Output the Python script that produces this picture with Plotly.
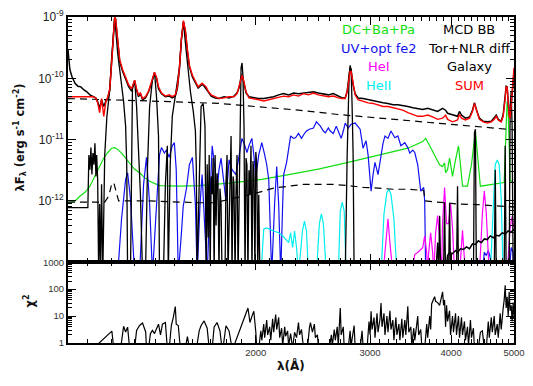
import numpy as np
import plotly.graph_objects as go

# ---------------- data (wavelength in Angstrom, log10 of lambda*F_lambda) ----------------
wave_obs = [1027,1034,1042,1053,1064,1075,1087,1098,1110,1122,1133,1141,1149,1157,1166,1174,1183,1191,1199,1208,
            1212,1216,1225,1234,1247,1260,1274,1287,1301,1310,1319,1328,1338,1352,1367,1381,1396,1406,1416,1431,
            1451,1471,1487,1503,1514,1525,1536,1547,1558,1569,1580,1597,1614,1630,1641,1653,1665,1677,1689,1707,
            1731,1755,1787,1819,1851,1871,1884,1898,1905,1918,1932,1952,1987,2021,2057,2093,2131,2169,2207,2247,
            2287,2327,2369,2411,2454,2497,2542,2587,2633,2680,2718,2747,2766,2785,2795,2805,2825,2845,2875,2927,
            2979,3032,3086,3141,3197,3254,3312,3371,3431,3492,3554,3617,3681,3746,3813,3880,3922,3950,4020,4092,
            4120,4150,4209,4270,4315,4345,4375,4422,4484,4548,4613,4662,4695,4728,4778,4812,4846,4863,4880,4898,
            4915,4932,4967,4985,5000]
logf_obs = [-9.54,-9.86,-9.98,-10.08,-10.13,-10.14,-10.19,-10.22,-10.27,-10.29,-10.32,-10.38,-10.49,-10.35,-10.46,-10.38,-10.32,-10.19,-9.76,-9.22,
            -9.02,-9.03,-9.44,-9.73,-9.89,-10.02,-10.14,-10.21,-10.05,-10.19,-10.30,-10.25,-10.35,-10.32,-10.22,-10.08,-9.92,-10.00,-10.17,-10.25,
            -10.30,-10.29,-10.32,-10.29,-10.17,-9.86,-9.37,-9.08,-9.24,-9.56,-9.81,-9.98,-10.08,-10.16,-10.13,-10.10,-10.13,-10.17,-10.22,-10.29,
            -10.32,-10.33,-10.30,-10.32,-10.29,-10.24,-10.16,-9.98,-9.94,-10.08,-10.24,-10.30,-10.32,-10.33,-10.33,-10.32,-10.30,-10.27,-10.25,-10.27,
            -10.24,-10.25,-10.24,-10.22,-10.22,-10.24,-10.25,-10.27,-10.25,-10.29,-10.32,-10.32,-10.21,-9.95,-9.83,-9.86,-10.11,-10.25,-10.32,-10.33,
            -10.35,-10.37,-10.38,-10.40,-10.41,-10.43,-10.43,-10.44,-10.46,-10.48,-10.49,-10.51,-10.49,-10.52,-10.54,-10.49,-10.52,-10.57,-10.59,-10.62,
            -10.54,-10.60,-10.65,-10.63,-10.52,-10.40,-10.51,-10.65,-10.70,-10.71,-10.70,-10.65,-10.60,-10.67,-10.70,-10.59,-10.30,-10.13,-10.14,-10.40,
            -10.59,-10.65,-10.30,-10.06,-9.90]
logf_sum = [-10.30,-10.30,-10.30,-10.30,-10.30,-10.30,-10.29,-10.29,-10.29,-10.30,-10.32,-10.40,-10.56,-10.33,-10.62,-10.40,-10.30,-10.17,-9.75,-9.19,
            -9.00,-9.03,-9.43,-9.70,-9.86,-9.98,-10.11,-10.17,-10.03,-10.17,-10.27,-10.24,-10.33,-10.30,-10.21,-10.06,-9.90,-9.98,-10.14,-10.24,
            -10.29,-10.27,-10.30,-10.27,-10.14,-9.83,-9.35,-9.06,-9.22,-9.54,-9.79,-9.95,-10.06,-10.14,-10.11,-10.08,-10.11,-10.14,-10.21,-10.27,
            -10.30,-10.33,-10.32,-10.30,-10.30,-10.25,-10.14,-9.98,-9.95,-10.06,-10.22,-10.32,-10.33,-10.35,-10.37,-10.35,-10.33,-10.30,-10.29,-10.30,
            -10.27,-10.29,-10.25,-10.27,-10.24,-10.27,-10.29,-10.30,-10.29,-10.32,-10.33,-10.33,-10.22,-9.98,-9.89,-9.89,-10.11,-10.27,-10.35,-10.38,
            -10.40,-10.41,-10.44,-10.46,-10.46,-10.48,-10.51,-10.52,-10.56,-10.59,-10.62,-10.62,-10.60,-10.63,-10.67,-10.65,-10.60,-10.67,-10.71,-10.68,
            -10.59,-10.65,-10.68,-10.65,-10.54,-10.41,-10.52,-10.67,-10.71,-10.73,-10.71,-10.67,-10.62,-10.68,-10.71,-10.62,-10.33,-10.14,-10.14,-10.38,
            -10.62,-10.65,-10.22,-10.02,-9.83]

wave_lines = [1027,1098,1102,1106,1110,1114,1118,1122,1126,1130,1134,1137,1141,1145,1149,1153,1157,1162,1170,1179,
              1191,1199,1212,1225,1238,1251,1260,1265,1269,1282,1291,1301,1310,1319,1328,1338,1352,1362,1372,1386,
              1396,1406,1416,1421,1441,1451,1461,1466,1476,1487,1503,1514,1525,1536,1547,1558,1569,1586,1602,1614,
              1619,
              1624,1636,1647,1659,1670,1677,1683,1689,1695,1701,1707,1713,1719,1725,1731,1737,1743,1749,1755,1761,
              1768,1774,1793,1799,1806,1812,1819,1825,1832,1838,1845,1851,1858,1864,1871,1878,1891,1898,1905,1911,
              1918,1925,1932,1938,1945,1952,1959,1966,1973,1980,1987,1994,2000,2007,2014,2021,2029,2036,
              2747,2766,2776,2785,2795,2805,2815,2825,2835,3786,3813,3827,3840,3854,3894,3908,3922,3964,3978,3992,
              4077,4092,4106,4330,4345,4360,4375,4662,4678,4695,4829,4846,4863,4915,4932,4950,4967,4985,5000]
logf_lines = [-12.11,-12.11,-12.11,-11.25,-11.49,-11.13,-11.57,-11.22,-11.41,-11.06,-11.60,-11.25,-11.65,-13.2,-12.05,-13.2,-11.73,-13.2,-11.25,-10.62,
              -10.19,-9.67,-9.00,-9.59,-9.98,-10.38,-10.78,-11.41,-13.2,-13.2,-10.14,-10.03,-10.46,-11.10,-11.89,-13.2,-13.2,-11.41,-10.46,-10.02,
              -9.90,-10.30,-10.94,-13.2,-13.2,-11.73,-11.10,-13.2,-11.41,-10.62,-10.30,-10.06,-9.83,-9.35,-9.08,-9.43,-9.75,-10.22,-10.54,-10.86,
              -11.41,
              -13.2,-11.73,-10.46,-10.41,-10.78,-13.2,-11.40,-12.60,-11.25,-13.2,-11.60,-11.89,-11.30,-13.2,-11.25,-12.40,-11.55,-11.73,-13.2,-11.80,
              -12.05,-13.2,-13.2,-11.70,-11.25,-13.2,-12.30,-12.05,-10.94,-13.2,-11.60,-11.73,-13.2,-11.90,-11.25,-13.2,-10.30,-9.83,-9.75,-9.98,
              -10.78,-13.2,-11.30,-11.41,-13.2,-11.50,-11.89,-11.10,-13.2,-11.35,-11.57,-13.2,-11.20,-11.41,-13.2,-11.90,-13.2,-13.2,
              -13.2,-11.25,-10.46,-9.98,-9.79,-9.86,-10.46,-11.25,-13.2,-13.2,-12.68,-13.2,-12.24,-13.2,-13.2,-12.02,-13.2,-13.2,-12.05,-13.2,
              -13.2,-11.76,-13.2,-13.2,-10.89,-10.83,-13.2,-13.2,-11.49,-13.2,-13.2,-11.10,-13.2,-13.2,-10.46,-10.22,-10.78,-13.2,-13.2]

wave_mcd = [1027,1234,1471,1755,2021,2327,2680,3086,3554,4092,5000]
logf_mcd = [-10.33,-10.35,-10.38,-10.41,-10.46,-10.52,-10.59,-10.65,-10.70,-10.76,-10.84]

wave_tor = [1027,1170,1187,1199,1208,1216,1229,1372,1525,1636,1725,1819,1918,2021,2131,2247,2369,2497,2633,2775,
            2927,3086,3254,3431,3630,3645,3880,4092,4391,4711,5000]
logf_tor = [-12.02,-12.02,-11.92,-11.73,-11.70,-11.81,-12.00,-12.00,-12.02,-12.03,-12.03,-11.98,-11.92,-11.86,-11.79,-11.76,-11.73,-11.73,-11.73,-11.75,
            -11.78,-11.79,-11.81,-11.81,-11.83,-12.00,-12.03,-12.05,-12.06,-12.08,-12.10]

wave_dc = [1027,1053,1072,1091,1110,1129,1149,1166,1183,1199,1212,1225,1242,1260,1278,1300,1324,1348,1372,1396,
           1421,1525,1636,1819,2043,2247,2497,2775,3086,3431,3617,3655,3707,3773,3840,3880,3908,3922,3950,3978,
           4006,4020,4063,4106,4135,4165,4239,4299,4360,4406,4437,4628,4829,4863,4880,4898,4915,4932,4967,5000]
logf_dc = [-12.03,-12.00,-11.92,-11.86,-11.76,-11.60,-11.46,-11.30,-11.21,-11.14,-11.13,-11.16,-11.22,-11.30,-11.38,-11.48,-11.54,-11.62,-11.68,-11.71,
           -11.75,-11.76,-11.75,-11.71,-11.65,-11.57,-11.48,-11.37,-11.25,-11.14,-11.03,-10.98,-11.10,-11.25,-11.41,-11.44,-11.38,-11.54,-11.49,-11.30,
           -11.49,-11.60,-11.33,-11.10,-11.41,-11.76,-11.76,-11.41,-10.86,-11.41,-11.76,-11.73,-11.70,-10.78,-10.38,-10.54,-11.10,-11.65,-11.70,-11.70]

wave_fe2 = [1225,1242,1260,1269,1282,1301,1324,1343,1357,1372,1386,1406,1421,1431,1446,1456,1471,1487,1498,1508,
            1519,1536,1546,1563,1580,1597,1614,1624,1641,1653,1670,1683,1701,1713,1731,1743,1755,1768,1787,1799,
            1819,1838,1864,1884,1904,1924,1938,1952,1972,1986,2000,2021,2043,2064,2079,2094,2109,2116,2138,2154,
            2169,2185,2200,2208,2231,2247,2263,2287,2303,2327,2352,2377,2394,2419,2454,2480,2515,2542,2560,2587,
            2605,2633,2661,2689,2708,2728,2747,2776,2805,2845,2875,2896,2926,2958,2979,3011,3032,3053,3086,3119,
            3141,3163,3197,3231,3276,3311,3347,3394,3430,3454,3491,3516,3553,3591,3629,3642,3655,4469,4500,4532,
            4564,4596,4629,4915,4950,4985,5000]
logf_fe2 = [-13.2,-12.29,-11.65,-11.54,-11.97,-13.2,-13.2,-11.73,-11.29,-12.05,-13.2,-12.05,-11.25,-11.13,-11.22,-11.17,-11.29,-11.10,-11.05,-11.49,
            -13.2,-12.52,-12.08,-11.81,-11.41,-11.29,-12.05,-13.2,-12.05,-11.57,-12.52,-13.2,-11.89,-11.10,-11.49,-11.84,-11.49,-11.30,-11.73,-12.00,
            -11.33,-11.49,-11.57,-11.25,-10.98,-11.10,-11.21,-11.10,-10.98,-11.25,-11.62,-11.25,-11.05,-11.25,-11.41,-11.65,-12.52,-13.2,-12.05,-11.44,
            -12.05,-13.2,-12.05,-11.57,-11.37,-11.17,-10.94,-10.98,-10.97,-10.90,-10.98,-10.90,-10.86,-10.83,-10.81,-10.71,-10.78,-10.86,-10.89,-10.81,
            -10.86,-10.90,-10.78,-10.90,-10.98,-10.86,-10.73,-10.81,-10.75,-10.73,-10.78,-10.83,-11.14,-11.02,-11.25,-11.84,-11.57,-11.37,-11.57,-11.22,
            -11.06,-10.94,-10.98,-10.86,-10.97,-10.94,-11.10,-11.05,-11.13,-11.22,-11.17,-11.21,-11.41,-11.84,-11.78,-12.00,-13.2,-13.2,-12.84,-12.89,
            -12.81,-12.92,-13.2,-13.2,-12.76,-12.84,-13.2]

wave_hei = [3141,3174,3197,3219,3254,3479,3516,3553,3591,3617,3642,3668,3681,3694,3720,3746,3760,3786,3813,3840,
            3867,3880,3908,3936,3964,3992,4020,4049,4121,4165,4209,4422,4469,4500,4532,4580,4880,4932,4967,5000]
logf_hei = [-13.2,-12.68,-12.29,-12.68,-13.2,-13.2,-12.87,-12.84,-12.79,-12.76,-12.57,-12.84,-13.2,-12.84,-12.52,-12.84,-13.2,-12.52,-12.24,-12.60,
            -13.2,-12.37,-11.78,-12.37,-12.37,-12.05,-12.44,-13.2,-13.2,-12.48,-13.2,-13.2,-12.21,-11.84,-12.21,-13.2,-13.2,-12.44,-12.25,-12.44]

wave_heii = [2021,2043,2057,2079,2131,2169,2200,2223,2247,2263,2279,2295,2311,2327,2360,2377,2394,2411,2480,2506,
             2524,2542,2569,2680,2699,2718,2737,2756,3119,3152,3185,3208,3231,3265,3300,4596,4645,4678,4711,4744,
             4778,4812]
logf_heii = [-13.2,-12.97,-12.46,-12.44,-12.49,-12.52,-12.57,-12.62,-12.68,-12.52,-12.76,-12.49,-12.76,-13.2,-12.49,-12.33,-12.49,-13.2,-13.2,-12.37,
             -12.21,-12.37,-13.2,-13.2,-12.17,-12.02,-12.17,-13.2,-13.2,-12.21,-11.86,-11.81,-11.89,-12.29,-13.2,-13.2,-11.97,-11.41,-11.33,-11.41,
             -11.97,-13.2]

wave_gal = [3922,3950,3978,4020,4063,4092,4135,4180,4224,4270,4315,4360,4406,4453,4500,4548,4596,4645,4695,4745,
            4795,4846,4898,4950,5000]
logf_gal = [-13.2,-12.89,-12.84,-12.86,-12.81,-12.84,-12.78,-12.79,-12.75,-12.78,-12.70,-12.71,-12.65,-12.68,-12.62,-12.63,-12.57,-12.60,-12.56,-12.57,
            -12.52,-12.54,-12.49,-12.51,-12.46]

wave_chi = [1141,1200,1208,1238,1251,1260,1269,1278,1301,1310,1324,1338,1353,1357,1367,1376,1386,1396,1406,1416,
            1426,1436,1451,1461,1471,1482,1492,1503,1508,1519,1530,1557,1569,1580,1620,1636,1647,1665,1683,1695,
            1713,1725,1743,1761,1774,1780,1799,1819,1838,1851,1945,1959,1973,1986,2000,2007,2021,2036,2043,2057,
            2064,2079,2086,2101,2109,2123,2131,2146,2154,2169,2177,2192,2200,2216,2223,2239,2247,2263,2279,2295,
            2311,2327,2336,2352,2369,2402,2419,2428,2445,2462,2471,2489,2498,2596,2615,2624,2642,2652,2670,2680,
            2699,2708,2728,2737,2776,2795,2805,2835,2845,2896,2916,2926,2968,2989,3000,3011,3021,3043,3053,3075,
            3086,3108,3119,3130,3152,3163,3185,3197,3219,3231,3253,3265,3288,3300,3323,3335,3358,3370,3394,3406,
            3430,3442,3467,3479,3503,3516,3553,3565,3591,3604,3642,3668,3681,3707,3720,3733,3746,3773,3786,3813,
            3840,3853,3881,3894,3908,3922,3936,3950,3978,3992,4020,4034,4063,4077,4106,4121,4150,4165,4194,4209,
            4239,4254,4284,4299,4329,4345,4406,4438,4469,4500,4532,4564,4580,4613,4629,4661,4678,4711,4728,4761,
            4778,4812,4829,4846,4863,4880,4898,4915,4932,4950,4967,4985,5000]
logchi = [-0.05,0.44,-0.2,-0.2,0.62,0.41,0.59,-0.2,-0.2,0.47,0.65,0.74,0.41,-0.2,-0.2,0.35,0.47,0.35,0.53,0.70,
          0.30,0.70,0.76,-0.2,-0.2,0.65,0.94,1.35,0.70,0.65,-0.2,-0.2,0.24,-0.2,-0.2,0.45,0.65,0.82,0.55,-0.2,
          -0.2,0.60,0.76,0.45,-0.2,-0.2,0.64,0.45,-0.2,-0.1,1.30,0.76,1.00,1.18,0.41,-0.2,-0.2,0.45,0.10,0.70,
          0.20,0.85,0.30,0.60,0.10,0.90,0.40,1.06,0.50,0.95,0.20,0.55,-0.1,0.60,0.25,0.45,-0.1,0.35,-0.2,0.40,
          0.20,0.76,0.30,0.50,-0.2,-0.2,0.55,0.76,0.40,0.70,0.20,0.30,-0.2,-0.2,0.30,-0.1,0.50,0.10,0.60,-0.1,
          1.30,0.30,0.60,-0.2,-0.2,0.45,-0.1,0.65,-0.1,-0.2,0.45,-0.1,-0.2,0.80,0.30,1.18,0.50,0.95,0.20,1.10,
          0.40,0.90,1.48,0.60,1.10,0.30,1.00,0.40,1.20,0.50,0.85,0.10,0.95,0.30,0.70,0.10,0.90,0.20,0.85,0.30,
          1.36,0.40,0.60,-0.1,0.55,0.10,1.00,0.30,0.50,-0.1,-0.2,0.70,0.20,1.00,0.50,1.45,1.55,1.72,1.55,1.50,
          1.40,1.60,1.90,1.40,1.60,0.60,1.40,0.80,1.20,0.30,1.00,0.40,1.10,0.30,1.00,0.20,0.95,0.30,0.80,0.10,
          0.60,-0.1,0.85,0.20,0.55,-0.2,-0.2,0.40,0.45,-0.2,-0.2,0.80,0.20,0.95,0.40,1.00,0.30,0.70,0.20,1.10,
          0.50,1.30,1.60,2.14,1.30,1.72,1.00,1.90,1.20,1.40,0.80,1.50,1.00]

legend_left = [("DC+Ba+Pa", "#10e010"), ("UV+opt fe2", "#1010f0"), ("HeI", "#ff00ff"), ("HeII", "#00eeee")]
legend_right = [("MCD BB", "black"), ("Tor+NLR diff", "black"), ("Galaxy", "black"), ("SUM", "red")]

# ---------------- figure ----------------
def arr(v):
    return np.power(10.0, np.array(v, dtype=float))

fig = go.Figure()
LW = 1.2
top = dict(xaxis="x", yaxis="y", mode="lines", showlegend=False, hoverinfo="skip")

fig.add_trace(go.Scatter(x=wave_dc, y=arr(logf_dc), line=dict(color="#10e010", width=LW), **top))
fig.add_trace(go.Scatter(x=wave_fe2, y=arr(logf_fe2), line=dict(color="#1010f0", width=LW), **top))
fig.add_trace(go.Scatter(x=wave_heii, y=arr(logf_heii), line=dict(color="#00eeee", width=LW), **top))
fig.add_trace(go.Scatter(x=wave_hei, y=arr(logf_hei), line=dict(color="#ff00ff", width=LW), **top))
fig.add_trace(go.Scatter(x=wave_mcd, y=arr(logf_mcd), line=dict(color="black", width=1.2, dash="7px,5px"), **top))
fig.add_trace(go.Scatter(x=wave_tor, y=arr(logf_tor), line=dict(color="black", width=1.2, dash="7px,5px"), **top))
fig.add_trace(go.Scatter(x=wave_gal, y=arr(logf_gal), line=dict(color="black", width=1.5), **top))
fig.add_trace(go.Scatter(x=wave_lines, y=arr(logf_lines), line=dict(color="black", width=1.3), **top))
fig.add_trace(go.Scatter(x=wave_obs, y=arr(logf_obs), line=dict(color="black", width=1.5), **top))
fig.add_trace(go.Scatter(x=wave_obs, y=arr(logf_sum), line=dict(color="red", width=1.4), **top))

fig.add_trace(go.Scatter(x=wave_chi, y=arr(logchi), xaxis="x2", yaxis="y2", mode="lines",
                         line=dict(color="black", width=1.2), showlegend=False, hoverinfo="skip"))

minor_x = [v for v in range(1100, 5000, 100) if v % 1000 != 0]
major_x = [2000, 3000, 4000, 5000]
minor_yt = [m * 10.0 ** e for e in range(-13, -9) for m in range(2, 10)]
minor_yb = [m * 10.0 ** e for e in range(0, 3) for m in range(2, 10)]

axis_common = dict(showline=True, linewidth=2, linecolor="black", mirror="ticks", ticks="inside",
                   tickcolor="black", tickwidth=1, showgrid=False, zeroline=False)
tickfont = dict(family="Liberation Sans, Arial", size=12, color="#222")
smallfont = dict(family="Liberation Sans, Arial", size=9.5, color="#333")

XR = [np.log10(1027), np.log10(5000)]
DOM = 83.0 / 335.0

fig.update_layout(
    width=533, height=386, margin=dict(l=68, r=16, t=8, b=43),
    paper_bgcolor="white", plot_bgcolor="white",
    xaxis=dict(type="log", range=XR, anchor="y", tickvals=major_x, showticklabels=False, ticklen=8,
               minor=dict(tickvals=minor_x, ticks="inside", ticklen=4, tickcolor="black"), **axis_common),
    yaxis=dict(type="log", range=[-13, -9], domain=[DOM, 1], anchor="x",
               tickvals=[1e-12, 1e-11, 1e-10, 1e-9],
               ticktext=["10<sup>-12</sup>", "10<sup>-11</sup>", "10<sup>-10</sup>", "10<sup>-9</sup>"],
               ticklen=8, tickfont=tickfont,
               minor=dict(tickvals=minor_yt, ticks="inside", ticklen=4, tickcolor="black"), **axis_common),
    xaxis2=dict(type="log", range=XR, anchor="y2", tickvals=major_x, ticktext=["2000", "3000", "4000", "5000"],
                ticklen=8, tickfont=smallfont,
                minor=dict(tickvals=minor_x, ticks="inside", ticklen=4, tickcolor="black"), **axis_common),
    yaxis2=dict(type="log", range=[0, 3], domain=[0, DOM], anchor="x2",
                tickvals=[1, 10, 100, 1000], ticktext=["1", "10", "100", "1000"], ticklen=8, tickfont=smallfont,
                minor=dict(tickvals=minor_yb, ticks="inside", ticklen=4, tickcolor="black"), **axis_common),
)

ann = []
lab_font = dict(family="DejaVu Sans", size=13)
ys = [0.961, 0.904, 0.848, 0.791]
for (t, c), yy in zip(legend_left, ys):
    ann.append(dict(text=t, x=0.697, y=yy, xref="paper", yref="paper", showarrow=False,
                    xanchor="center", yanchor="middle", font=dict(color=c, **lab_font)))
for (t, c), yy in zip(legend_right, ys):
    ann.append(dict(text=t, x=0.900, y=yy, xref="paper", yref="paper", showarrow=False,
                    xanchor="center", yanchor="middle", font=dict(color=c, **lab_font)))
ann.append(dict(text="<b>λF<sub>λ</sub> (erg s<sup>-1</sup> cm<sup>-2</sup>)</b>", x=-0.108, y=0.63,
                xref="paper", yref="paper", showarrow=False, textangle=-90, xanchor="center", yanchor="middle",
                font=dict(family="DejaVu Sans", size=11.5, color="#111")))
ann.append(dict(text="<b>χ<sup>2</sup></b>", x=-0.087, y=0.128, xref="paper", yref="paper", showarrow=False,
                textangle=-90, xanchor="center", yanchor="middle",
                font=dict(family="DejaVu Sans", size=11.5, color="#111")))
ann.append(dict(text="<b>λ(Å)</b>", x=0.499, y=-0.069, xref="paper", yref="paper", showarrow=False,
                xanchor="center", yanchor="middle", font=dict(family="DejaVu Sans", size=12, color="#111")))
fig.update_layout(annotations=ann)

fig.write_html("out.html")
